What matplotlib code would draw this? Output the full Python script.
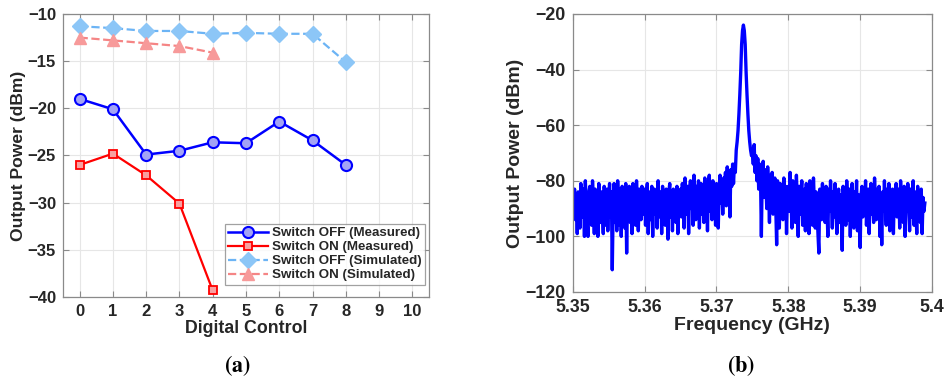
import numpy as np
import matplotlib.pyplot as plt

# ============ DATA ============
# (a) output power vs digital control
ctrl_off = [0, 1, 2, 3, 4, 5, 6, 7, 8]
ctrl_on = [0, 1, 2, 3, 4]
off_measured = [-19.0, -20.1, -24.9, -24.5, -23.6, -23.7, -21.4, -23.4, -26.0]
on_measured = [-26.0, -24.8, -27.1, -30.1, -39.3]
off_simulated = [-11.3, -11.5, -11.8, -11.8, -12.1, -12.0, -12.1, -12.1, -15.1]
on_simulated = [-12.5, -12.8, -13.1, -13.4, -14.1]

# (b) spectrum, one value every 0.125 MHz starting at 5.35 GHz
f_start = 5.35
f_step = 0.000125
spectrum_dbm = [
    # 5.3500 - 5.3550
    -85, -90, -83, -94, -86, -99, -84, -88, -97, -81, -86, -93, -83, -100, -80, -88, -95, -100, -84, -82,
    -90, -96, -80, -87, -99, -83, -92, -85, -100, -81, -86, -95, -84, -91, -99, -82, -88, -96, -83, -98,
    # 5.3550 - 5.3600
    -86, -81, -93, -84, -112, -89, -81, -95, -85, -98, -80, -88, -96, -83, -100, -82, -90, -86, -97, -81,
    -106, -85, -93, -82, -95, -86, -99, -81, -89, -84, -96, -80, -90, -98, -83, -88, -94, -82, -92, -86,
    # 5.3600 - 5.3650
    -83, -96, -85, -81, -99, -88, -84, -94, -82, -100, -86, -83, -92, -85, -97, -80, -89, -93, -84, -99,
    -82, -91, -86, -96, -83, -88, -101, -84, -81, -93, -86, -98, -83, -90, -85, -95, -82, -99, -84, -89,
    # 5.3650 - 5.3700
    -83, -93, -81, -87, -97, -79, -85, -92, -82, -99, -84, -80, -90, -83, -96, -78, -86, -94, -82, -88,
    -80, -97, -84, -81, -92, -83, -95, -79, -86, -82, -98, -81, -78, -91, -84, -94, -80, -88, -83, -96,
    # 5.3700 - 5.3750 (carrier)
    -81, -90, -97, -83, -78, -88, -80, -92, -79, -85, -77, -89, -75, -84, -78, -93, -76, -82, -74, -81,
    -74, -77, -69, -66, -62, -56, -49, -41, -31, -26, -24, -26, -31, -41, -49, -56, -62, -66, -69, -71,
    # 5.3750 - 5.3800
    -70, -74, -67, -77, -71, -80, -72, -83, -74, -78, -100, -77, -73, -86, -76, -81, -90, -75, -83, -95,
    -78, -87, -77, -92, -82, -79, -89, -103, -80, -87, -97, -81, -90, -83, -94, -79, -88, -82, -99, -84,
    # 5.3800 - 5.3850
    -82, -91, -77, -86, -97, -80, -89, -84, -95, -78, -87, -100, -82, -92, -85, -80, -96, -88, -83, -98,
    -81, -90, -86, -99, -80, -92, -84, -96, -79, -88, -97, -84, -90, -99, -106, -83, -87, -94, -81, -92,
    # 5.3850 - 5.3900
    -84, -95, -82, -89, -100, -83, -91, -80, -88, -97, -84, -93, -81, -87, -99, -88, -83, -95, -85, -91,
    -105, -82, -90, -84, -96, -80, -88, -94, -83, -100, -86, -81, -92, -97, -84, -89, -80, -98, -85, -93,
    # 5.3900 - 5.3950
    -104, -85, -82, -93, -84, -90, -80, -96, -87, -83, -99, -86, -81, -92, -84, -95, -79, -88, -94, -83,
    -90, -82, -100, -86, -103, -84, -91, -80, -89, -96, -83, -88, -81, -98, -85, -92, -83, -99, -84, -90,
    # 5.3950 - 5.3990
    -81, -93, -86, -83, -97, -80, -89, -84, -95, -82, -100, -86, -91, -81, -88, -98, -83, -93, -85, -80,
    -96, -84, -90, -99, -82, -92, -84, -95, -83, -99, -86, -91, -88,
]
freq_ghz = f_start + f_step * np.arange(len(spectrum_dbm))

# ============ STYLE ============
TXT = "#262626"
plt.rcParams["font.family"] = ["Liberation Sans", "DejaVu Sans"]
plt.rcParams["font.weight"] = "bold"
plt.rcParams["mathtext.fontset"] = "stix"


def matlab_axes(ax, tick_size):
    for s in ax.spines.values():
        s.set_color("#8a8a8a")
        s.set_linewidth(0.9)
    ax.tick_params(direction="in", top=True, right=True, colors="#8a8a8a",
                   labelcolor=TXT, labelsize=tick_size, length=4, width=0.8, pad=5)
    ax.grid(True, color="#e6e6e6", linewidth=0.8)
    ax.set_axisbelow(True)
    for lab in ax.get_xticklabels() + ax.get_yticklabels():
        lab.set_fontweight("bold")


fig = plt.figure(figsize=(9.53, 3.83), dpi=100)

# ---- (a) ----
ax1 = fig.add_axes([0.0661, 0.2245, 0.384, 0.739])
ax1.plot(ctrl_off, off_measured, "-o", color="#0000ff", lw=1.8, ms=8,
         mfc="#a3a3f5", mec="#0000ff", mew=1.5, label="Switch OFF (Measured)", zorder=4)
ax1.plot(ctrl_on, on_measured, "-s", color="#ff0000", lw=1.6, ms=6,
         mfc="#f7a1a1", mec="#ff0000", mew=1.3, label="Switch ON (Measured)", zorder=4)
ax1.plot(ctrl_off, off_simulated, "--D", color="#6cb4f5", lw=1.6, ms=8,
         mfc="#8cc6f7", mec="#8cc6f7", label="Switch OFF (Simulated)", zorder=3)
ax1.plot(ctrl_on, on_simulated, "--^", color="#f58585", lw=1.6, ms=9,
         mfc="#f79a9a", mec="#f79a9a", label="Switch ON (Simulated)", zorder=3)
ax1.set_xlim(-0.5, 10.5)
ax1.set_ylim(-40, -10)
ax1.set_xticks(range(0, 11))
ax1.set_yticks(range(-40, -9, 5))
ax1.set_xlabel("Digital Control", fontsize=12.8, fontweight="bold", color=TXT, labelpad=1)
ax1.set_ylabel("Output Power (dBm)", fontsize=12.6, fontweight="bold", color=TXT, labelpad=1)
matlab_axes(ax1, 12)
leg = ax1.legend(loc="lower right", bbox_to_anchor=(1.0, 0.03), fontsize=9.6,
                 frameon=True, fancybox=False, handlelength=3.0, handletextpad=0.3,
                 borderpad=0.25, labelspacing=0.12, borderaxespad=0.3)
leg.get_frame().set_edgecolor("#8a8a8a")
leg.get_frame().set_linewidth(0.9)
for t in leg.get_texts():
    t.set_color(TXT)
    t.set_fontweight("bold")

# ---- (b) ----
ax2 = fig.add_axes([0.601, 0.2376, 0.377, 0.726])
ax2.plot(freq_ghz, spectrum_dbm, color="#0000ff", lw=2.4, solid_joinstyle="round")
ax2.set_xlim(5.35, 5.4)
ax2.set_ylim(-120, -20)
ax2.set_xticks([5.35, 5.36, 5.37, 5.38, 5.39, 5.4])
ax2.set_xticklabels(["5.35", "5.36", "5.37", "5.38", "5.39", "5.4"])
ax2.set_yticks(range(-120, -19, 20))
ax2.set_xlabel("Frequency (GHz)", fontsize=14, fontweight="bold", color=TXT, labelpad=1)
ax2.set_ylabel("Output Power (dBm)", fontsize=14, fontweight="bold", color=TXT, labelpad=1)
matlab_axes(ax2, 12.8)

# panel captions
fig.text(237 / 953, 1 - 366 / 383, r"$(\mathbf{a})$", ha="center", va="center", fontsize=16)
fig.text(741 / 953, 1 - 366 / 383, r"$(\mathbf{b})$", ha="center", va="center", fontsize=16)

fig.savefig("out.png", dpi=100)
